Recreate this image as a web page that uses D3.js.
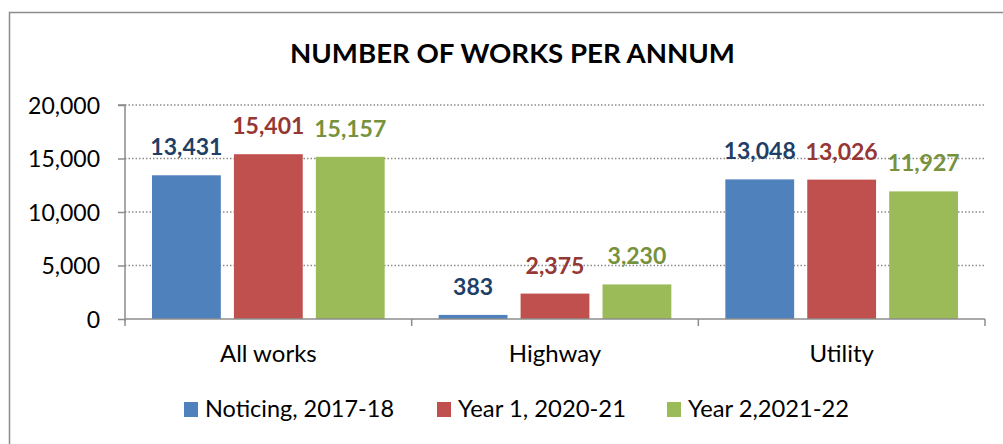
<!DOCTYPE html>
<html><head><meta charset="utf-8">
<script src="https://cdn.jsdelivr.net/npm/d3@7"></script>
<style>body{margin:0;background:#fff}svg{display:block}text{font-family:Lato,"Open Sans",sans-serif}</style>
</head><body><svg id="c" width="1003" height="444"></svg>
<script>
const categories = ["All works", "Highway", "Utility"];
const seriesNames = ["Noticing, 2017-18", "Year 1, 2020-21", "Year 2,2021-22"];
const noticing = [13431, 383, 13048];
const year1 = [15401, 2375, 13026];
const year2 = [15157, 3230, 11927];
const yTicks = [0, 5000, 10000, 15000, 20000];
const title = "NUMBER OF WORKS PER ANNUM";

const seriesValues = [noticing, year1, year2];
const fills = ["#4F81BD", "#C0504D", "#9BBB59"];
const labelColors = ["#1F3F66", "#953735", "#76923C"];

const svg = d3.select("#c");
svg.append("rect").attr("x", 9.5).attr("y", 12.5).attr("width", 1010).attr("height", 450)
  .attr("fill", "#fff").attr("stroke", "#8c8c8c").attr("stroke-width", 1.5);

const pL = 125, pR = 985, pT = 105, pB = 319;
const y = d3.scaleLinear().domain([0, 20000]).range([pB, pT]);
const x0 = d3.scaleBand().domain(categories).range([pL, pR]).padding(0);
const x1 = d3.scaleBand().domain(seriesNames).range([27, x0.bandwidth() - 27]).paddingInner(0.16).paddingOuter(0);

svg.append("text").attr("x", 512.5).attr("y", 63).attr("text-anchor", "middle")
  .attr("font-size", 27).attr("font-weight", 700).attr("fill", "#000")
  .attr("textLength", 445).attr("lengthAdjust", "spacingAndGlyphs").text(title);

// gridlines
svg.append("g").selectAll("line").data(yTicks.filter(d => d > 0)).join("line")
  .attr("x1", pL).attr("x2", pR).attr("y1", d => y(d)).attr("y2", d => y(d))
  .attr("stroke", "#8c8c8c").attr("stroke-width", 1.3).attr("stroke-dasharray", "1.5,2");

// y axis
const yAxis = d3.axisLeft(y).tickValues(yTicks).tickSize(7).tickPadding(18)
  .tickFormat(d3.format(","));
const gy = svg.append("g").attr("transform", `translate(${pL},0)`).call(yAxis);
gy.select(".domain").attr("stroke", "#8c8c8c").attr("stroke-width", 1.5).attr("d", `M-7,${pT}H0V${pB+2}`);
gy.selectAll(".tick line").attr("stroke", "#8c8c8c").attr("stroke-width", 1.5);
gy.selectAll(".tick text").attr("font-size", 23).attr("fill", "#000").attr("font-family", "Lato").attr("dy", "0.35em");

// bars
const groups = svg.append("g").selectAll("g").data(categories).join("g")
  .attr("transform", d => `translate(${x0(d)},0)`);
groups.selectAll("rect").data((c, i) => seriesNames.map((s, j) => ({s, j, v: seriesValues[j][i]}))).join("rect")
  .attr("x", d => x1(d.s)).attr("width", x1.bandwidth())
  .attr("y", d => y(d.v)).attr("height", d => pB - y(d.v))
  .attr("fill", d => fills[d.j]);
groups.selectAll("text").data((c, i) => seriesNames.map((s, j) => ({s, j, v: seriesValues[j][i]}))).join("text")
  .attr("x", d => x1(d.s) + x1.bandwidth() / 2).attr("y", d => y(d.v) - 20)
  .attr("text-anchor", "middle").attr("font-size", 23).attr("font-weight", 700)
  .attr("fill", d => labelColors[d.j]).text(d => d3.format(",")(d.v));

// x axis
const xAxis = d3.axisBottom(x0).tickSize(0).tickPadding(0);
const gx = svg.append("g").attr("transform", `translate(0,${pB})`).call(xAxis);
gx.select(".domain").attr("stroke", "#8c8c8c").attr("stroke-width", 1.5).attr("d", `M${pL},0H${pR}`);
gx.selectAll(".tick text").attr("font-size", 24).attr("fill", "#000").attr("font-family", "Lato").attr("y", 43).attr("dy", 0);
svg.append("g").selectAll("line").data(categories.map(c => x0(c)).concat([pR])).join("line")
  .attr("x1", d => d).attr("x2", d => d).attr("y1", pB).attr("y2", pB + 7)
  .attr("stroke", "#8c8c8c").attr("stroke-width", 1.5);

// legend
const legendX = [184, 437, 667];
const legendW = [189, 168, 161];
const lg = svg.append("g").selectAll("g").data(seriesNames).join("g")
  .attr("transform", (d, i) => `translate(${legendX[i]},402)`);
lg.append("rect").attr("width", 14).attr("height", 15).attr("fill", (d, i) => fills[i]);
lg.append("text").attr("x", 21).attr("y", 15).attr("font-size", 24).attr("fill", "#000")
  .attr("textLength", (d, i) => legendW[i]).attr("lengthAdjust", "spacingAndGlyphs").text(d => d);
</script></body></html>
